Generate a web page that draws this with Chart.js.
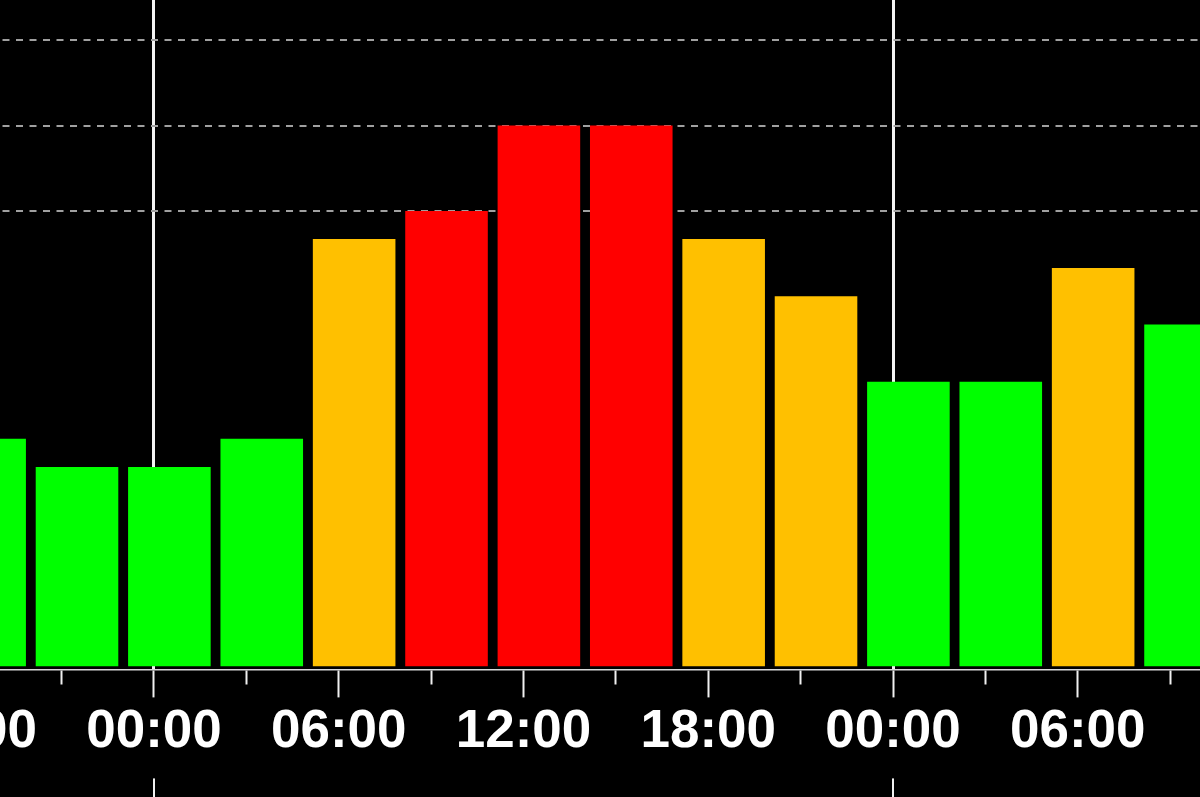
<!DOCTYPE html>
<html lang="ru">
<head>
  <meta charset="UTF-8">
  <title>Kp</title>
  <script src="https://cdn.jsdelivr.net/npm/chart.js"></script>
  <style>
    html, body {
      margin: 0;
      padding: 0;
      background: #000;
      overflow: hidden;
      width: 1200px;
      height: 797px;
    }
    /* chart is wider than the window, the picture is a crop of it */
    .wrap {
      position: absolute;
      left: -200px;
      top: 0;
      width: 1600px;
      height: 797px;
    }
  </style>
</head>
<body>

<div class="wrap"><canvas id="kpChart"></canvas></div>

<script>
// 3-hour bins, centre of each bin in hours from the first 00:00
const binHours = [-5.5, -2.5, 0.5, 3.5, 6.5, 9.5, 12.5, 15.5, 18.5, 21.5, 24.5, 27.5, 30.5, 33.5];
const kpValues = [2.33, 2, 2, 2.33, 4.67, 5, 6, 6, 4.67, 4, 3, 3, 4.33, 3.67];
const tickHours = [-6, 0, 6, 12, 18, 24, 30];
const tickLabels = ['18:00', '00:00', '06:00', '12:00', '18:00', '00:00', '06:00'];
const dayHours = [0, 24];
const stormLevels = [5, 6, 7];

function barColor(v) {
  if (v >= 5) return '#ff0000';
  if (v >= 4) return '#ffc000';
  return '#00ff00';
}

// separator under the labels at each 00:00
const dayTails = {
  id: 'dayTails',
  afterDraw(chart) {
    const x = chart.scales.x;
    const ctx = chart.ctx;
    ctx.save();
    ctx.strokeStyle = '#f0f0f0';
    ctx.lineWidth = 2;
    dayHours.forEach(h => {
      const px = x.getPixelForValue(h);
      ctx.beginPath();
      ctx.moveTo(px, x.top + 109);
      ctx.lineTo(px, chart.height);
      ctx.stroke();
    });
    ctx.restore();
  }
};

new Chart(document.getElementById('kpChart'), {
  type: 'bar',
  data: {
    datasets: [{
      data: binHours.map((h, i) => ({ x: h, y: kpValues[i] })),
      backgroundColor: ctx => barColor(kpValues[ctx.dataIndex]),
      borderWidth: 0,
      base: -1 / 3,
      barPercentage: 0.894,
      categoryPercentage: 1
    }]
  },
  options: {
    responsive: true,
    maintainAspectRatio: false,
    animation: false,
    layout: { padding: { left: 0, right: 0, top: 0, bottom: 30 } },
    plugins: {
      legend: { display: false },
      tooltip: { enabled: false }
    },
    scales: {
      x: {
        type: 'linear',
        min: -11.496,
        max: 40.465,
        offset: false,
        border: { display: true, color: '#d8d8d8', width: 1.5 },
        grid: {
          offset: false,
          color: c => dayHours.includes(c.tick.value) ? '#f4f4f4' : 'rgba(0,0,0,0)',
          lineWidth: 3,
          tickLength: 28,
          tickWidth: 2,
          tickColor: c => (c.tick.value % 3 === 0) ? '#f0f0f0' : 'rgba(0,0,0,0)',
          tickBorderDash: c => (c.tick.value % 6 === 0) ? [] : [14, 100]
        },
        ticks: {
          stepSize: 3,
          includeBounds: false,
          autoSkip: false,
          maxRotation: 0,
          padding: 3,
          color: '#ffffff',
          font: { family: "'Liberation Sans', Arial, sans-serif", size: 53, weight: 'bold' },
          callback: v => {
            const i = tickHours.indexOf(v);
            return i >= 0 ? tickLabels[i] : '';
          }
        }
      },
      y: {
        min: -0.37,
        max: 7.47,
        border: { display: false, dash: [7, 6.5] },
        grid: {
          drawTicks: false,
          color: c => stormLevels.includes(c.tick.value) ? '#a0a0a0' : 'rgba(0,0,0,0)',
          lineWidth: 2
        },
        ticks: { display: false, stepSize: 1, includeBounds: false }
      }
    }
  },
  plugins: [dayTails]
});
</script>

</body>
</html>
